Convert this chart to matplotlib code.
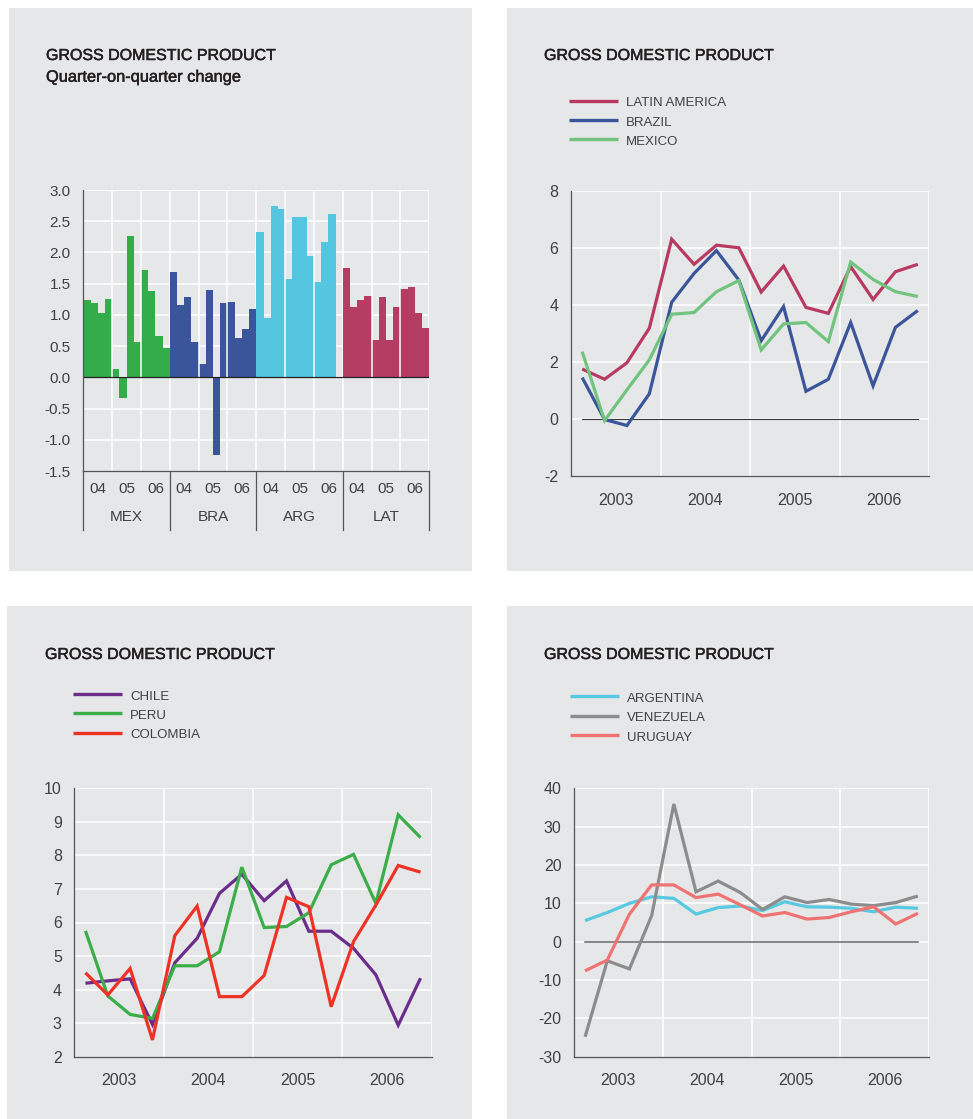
import matplotlib
matplotlib.use('Agg')
import matplotlib.pyplot as plt
import matplotlib.patheffects as pe
from matplotlib.patches import Rectangle
from matplotlib.lines import Line2D
import numpy as np

# ---- data -------------------------------------------------------------
bar_groups = ['MEX', 'BRA', 'ARG', 'LAT']
bar_years = ['04', '05', '06']
mex_q = [1.24, 1.19, 1.03, 1.25, 0.14, -0.33, 2.27, 0.57, 1.72, 1.38, 0.66, 0.47]
bra_q = [1.69, 1.16, 1.29, 0.57, 0.21, 1.40, -1.24, 1.19, 1.21, 0.63, 0.77, 1.09]
arg_q = [2.33, 0.95, 2.74, 2.70, 1.57, 2.57, 2.57, 1.94, 1.53, 2.17, 2.62, np.nan]
lat_q = [1.75, 1.13, 1.24, 1.30, 0.60, 1.29, 0.60, 1.13, 1.41, 1.45, 1.03, 0.79]
bar_colors = ['#33ad4a', '#3a5599', '#54c6e0', '#b53c62']

years = [2003, 2004, 2005, 2006]

latam = [1.75, 1.39, 1.97, 3.18, 6.30, 5.42, 6.09, 6.00, 4.45, 5.36, 3.91, 3.70, 5.34, 4.19, 5.16, 5.42]
brazil = [1.45, -0.02, -0.23, 0.88, 4.09, 5.10, 5.90, 4.87, 2.74, 3.94, 0.97, 1.39, 3.38, 1.16, 3.21, 3.80]
mexico = [2.36, -0.06, 1.02, 2.07, 3.67, 3.73, 4.46, 4.85, 2.42, 3.33, 3.38, 2.71, 5.50, 4.89, 4.46, 4.29]

chile = [4.19, 4.26, 4.32, 2.96, 4.80, 5.53, 6.87, 7.44, 6.65, 7.24, 5.74, 5.74, 5.23, 4.44, 2.94, 4.34]
peru = [5.75, 3.81, 3.26, 3.14, 4.71, 4.71, 5.13, 7.65, 5.85, 5.88, 6.29, 7.72, 8.03, 6.57, 9.21, 8.53]
colombia = [4.50, 3.84, 4.63, 2.50, 5.61, 6.49, 3.79, 3.79, 4.42, 6.75, 6.47, 3.49, 5.43, 6.52, 7.70, 7.50]

argentina = [5.5, 7.6, 10.0, 11.7, 11.3, 7.2, 8.9, 9.3, 8.1, 10.4, 9.1, 9.0, 8.7, 7.8, 9.0, 8.7]
venezuela = [-24.8, -5.0, -7.1, 6.8, 35.9, 13.0, 15.8, 12.8, 8.4, 11.7, 10.2, 11.0, 9.8, 9.4, 10.2, 11.9]
uruguay = [-7.6, -4.8, 7.2, 14.8, 14.8, 11.5, 12.4, 9.6, 6.7, 7.6, 5.9, 6.3, 7.8, 9.1, 4.6, 7.4]

# ---- layout helpers -----------------------------------------------------
W, H = 973, 1119
PANEL = '#e6e7e8'
TXT = '#231f20'
TICK = '#404040'
SPINE = '#555555'
plt.rcParams['font.family'] = ['Liberation Sans', 'DejaVu Sans']

fig = plt.figure(figsize=(W / 100, H / 100), dpi=100)


def fx(px):
    return px / W


def fy(py):
    return 1 - py / H


def box(x0, y0, x1, y1):
    return [fx(x0), fy(y1), fx(x1) - fx(x0), fy(y0) - fy(y1)]


for x0, y0, x1, y1 in [(9, 8, 471.7, 570.7), (506.7, 8, 973, 570.7),
                       (7, 605.7, 471.7, 1119), (506.7, 605.7, 973, 1119)]:
    fig.add_artist(Rectangle((fx(x0), fy(y1)), fx(x1) - fx(x0), fy(y0) - fy(y1),
                             transform=fig.transFigure, facecolor=PANEL,
                             edgecolor='none', zorder=0))

title_fx = [pe.withStroke(linewidth=0.35, foreground=TXT)]


def title(x, y, s, size=11.5):
    fig.text(fx(x), fy(y), s, fontsize=size, color=TXT, va='baseline',
             ha='left', path_effects=title_fx)


def legend(x, y0, step, labels, colors):
    for i, (lab, c) in enumerate(zip(labels, colors)):
        y = y0 + i * step
        fig.add_artist(Line2D([fx(x), fx(x + 49)], [fy(y), fy(y)], color=c,
                              lw=2.4, transform=fig.transFigure,
                              solid_capstyle='butt'))
        fig.text(fx(x + 57), fy(y + 5.8), lab, fontsize=9.5, color=TICK,
                 va='baseline', ha='left')


def style_axes(ax):
    ax.set_facecolor(PANEL)
    for s in ['top', 'right']:
        ax.spines[s].set_visible(False)
    for s in ['left', 'bottom']:
        ax.spines[s].set_color(SPINE)
        ax.spines[s].set_linewidth(0.9)
        ax.spines[s].set_zorder(5)
    ax.tick_params(length=0, colors=TICK, labelsize=11.5)


# ---- panel 1: bars ------------------------------------------------------
ax1 = fig.add_axes(box(83.3, 190, 429.3, 471))
style_axes(ax1)
all_q = [mex_q, bra_q, arg_q, lat_q]
for g, (vals, col) in enumerate(zip(all_q, bar_colors)):
    xs = np.arange(len(vals)) + g * len(vals)
    v = np.array(vals, dtype=float)
    ok = ~np.isnan(v)
    ax1.bar(xs[ok], v[ok], width=1.0, align='edge', color=col,
            edgecolor='none', zorder=2)
n_slots = sum(len(v) for v in all_q)
ax1.set_xlim(0, n_slots)
ax1.set_ylim(-1.5, 3.0)
yt = np.arange(-1.5, 3.01, 0.5)
ax1.set_yticks(yt)
ax1.set_yticklabels([f'{t:.1f}' for t in yt])
ax1.tick_params(axis='y', pad=9, labelsize=11)
for t in yt[1:]:
    ax1.axhline(t, color='white', lw=1.1, zorder=1)
for k in range(4, n_slots + 1, 4):
    inner = k % 12 != 0
    ax1.axvline(k, color='white', lw=1.1, zorder=3 if inner else 1)
ax1.axhline(0, color='#222222', lw=0.9, zorder=4)
ax1.set_xticks([])
xt = ax1.get_xaxis_transform()
drop = (530 - 471) / (471 - 190)
for g, name in enumerate(bar_groups):
    for j, yr in enumerate(bar_years):
        ax1.text(g * 12 + j * 4 + 2, -(488.5 - 471) / 281, yr, transform=xt,
                 ha='center', va='center', fontsize=11, color=TICK)
    ax1.text(g * 12 + 6, -(517 - 471) / 281, name, transform=xt,
             ha='center', va='center', fontsize=11, color=TICK)
for k in range(0, n_slots + 1, 12):
    ax1.plot([k, k], [0, -drop], transform=xt, color=SPINE, lw=0.9,
             clip_on=False, zorder=5)

title(46, 60, 'GROSS DOMESTIC PRODUCT')
title(46, 81.7, 'Quarter-on-quarter change', size=11.8)


# ---- line panels ----------------------------------------------------------
def line_panel(rect, series, colors, ylim, ystep, zero=None):
    ax = fig.add_axes(rect)
    style_axes(ax)
    n = len(series[0])
    x = years[0] + (np.arange(n) + 0.5) / 4
    ax.set_xlim(years[0], years[-1] + 1)
    ax.set_ylim(*ylim)
    ticks = np.arange(ylim[0], ylim[1] + 0.001, ystep)
    ax.set_yticks(ticks)
    ax.set_yticklabels([f'{t:g}' for t in ticks])
    for t in ticks[1:]:
        ax.axhline(t, color='white', lw=1.1, zorder=1)
    for yr in years[1:] + [years[-1] + 1]:
        ax.axvline(yr, color='white', lw=1.1, zorder=1)
    ax.set_xticks([])
    ax.set_xticks([yr + 0.5 for yr in years], minor=True)
    ax.set_xticklabels([str(yr) for yr in years], minor=True)
    ax.tick_params(axis='x', which='minor', length=0, pad=12, colors=TICK,
                   labelsize=11.5)
    ax.tick_params(axis='y', pad=9)
    if zero:
        ax.plot([x[0], x[-1]], [0, 0], color=zero[0], lw=zero[1], zorder=2)
    for s, c in zip(series, colors):
        ax.plot(x, s, color=c, lw=2.3, zorder=3, solid_joinstyle='miter',
                solid_capstyle='butt')
    return ax


c2 = ['#b83a62', '#3a5599', '#70c47e']
line_panel(box(571, 190.7, 929, 476), [latam, brazil, mexico], c2, (-2, 8), 2,
           zero=('#3a3a3a', 0.8))
title(544, 60, 'GROSS DOMESTIC PRODUCT')
legend(569, 100.7, 19.3, ['LATIN AMERICA', 'BRAZIL', 'MEXICO'], c2)

c3 = ['#6b2d8b', '#3bad49', '#ee3326']
line_panel(box(74.3, 788.3, 431.7, 1056.7), [chile, peru, colombia], c3,
           (2, 10), 1)
title(45, 659, 'GROSS DOMESTIC PRODUCT')
legend(73, 694, 19.3, ['CHILE', 'PERU', 'COLOMBIA'], c3)

c4 = ['#57c9e1', '#8c8c8d', '#f07373']
line_panel(box(574, 788.3, 929, 1056.7), [argentina, venezuela, uruguay], c4,
           (-30, 40), 10, zero=('#666666', 1.1))
title(544, 659, 'GROSS DOMESTIC PRODUCT')
legend(570, 696, 19.5, ['ARGENTINA', 'VENEZUELA', 'URUGUAY'], c4)

fig.savefig('out.png', dpi=100, facecolor='white')
